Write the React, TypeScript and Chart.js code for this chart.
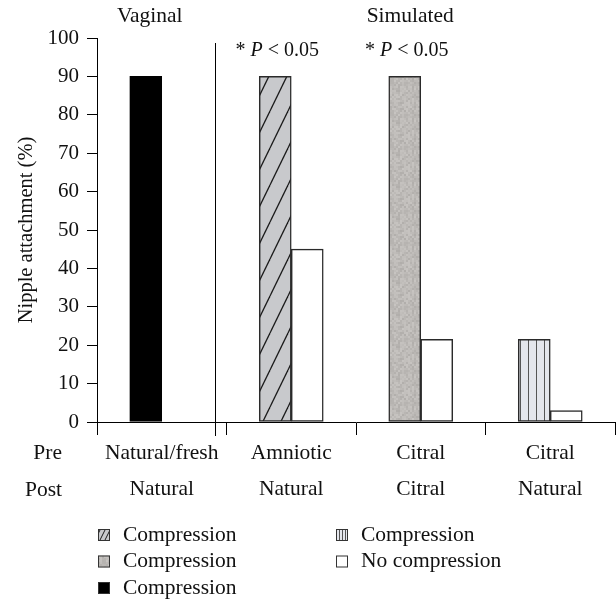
import React, { useEffect, useRef } from "react";
import { Chart, registerables } from "chart.js";

Chart.register(...registerables);

const FONT = "'Liberation Serif', 'Times New Roman', serif";
const FS = 21.5;

// ---- data ----
const preLabels = ["Natural/fresh", "Amniotic", "Citral", "Citral"];
const postLabels = ["Natural", "Natural", "Citral", "Natural"];
const rowLabels = ["Pre", "Post"];
const groupTitles = ["Vaginal", "Simulated"];
const significance = [null, "P < 0.05", "P < 0.05", null];

const amnioticCompression = [null, 90, null, null];
const citralCitralCompression = [null, null, 90, null];
const vaginalCompression = [90, null, null, null];
const citralNaturalCompression = [null, null, null, 21.5];
const noCompression = [0, 45, 21.5, 3];

const seriesLabels = ["Compression", "Compression", "Compression", "Compression", "No compression"];

function hash(x: number, y: number) {
  let h = (x * 374761393 + y * 668265263) | 0;
  h = (h ^ (h >>> 13)) * 1274126177;
  h = h ^ (h >>> 16);
  return ((h >>> 0) % 1000) / 1000;
}

function makePatterns(ctx: CanvasRenderingContext2D, small: boolean) {
  const hw = small ? 5 : 18;
  const hh = small ? 10 : 37;
  const hc = document.createElement("canvas");
  hc.width = hw;
  hc.height = hh;
  const hg = hc.getContext("2d")!;
  hg.fillStyle = "#c8c9cc";
  hg.fillRect(0, 0, hw, hh);
  hg.strokeStyle = "#1a1a1a";
  hg.lineWidth = small ? 1 : 1.3;
  for (const dx of [-hw, 0, hw]) {
    hg.beginPath();
    hg.moveTo(dx, hh);
    hg.lineTo(dx + hw, 0);
    hg.stroke();
  }
  const sc = document.createElement("canvas");
  sc.width = 32;
  sc.height = 32;
  const sg = sc.getContext("2d")!;
  for (let yy = 0; yy < 32; yy += 2) {
    for (let xx = 0; xx < 32; xx += 2) {
      const v = hash(xx, yy);
      const base = 186 + Math.round((v - 0.5) * 22);
      sg.fillStyle = `rgb(${base + 2},${base - 1},${base - 4})`;
      sg.fillRect(xx, yy, 2, 2);
    }
  }
  const vw = small ? 3 : 8;
  const vc = document.createElement("canvas");
  vc.width = vw;
  vc.height = 4;
  const vg = vc.getContext("2d")!;
  vg.fillStyle = "#e4e6ec";
  vg.fillRect(0, 0, vw, 4);
  vg.fillStyle = "#555";
  vg.fillRect(0, 0, 1, 4);
  return {
    hatch: ctx.createPattern(hc, "repeat")!,
    speckle: ctx.createPattern(sc, "repeat")!,
    stripes: ctx.createPattern(vc, "repeat")!,
  };
}

export default function App() {
  const ref = useRef<HTMLCanvasElement>(null);

  useEffect(() => {
    const canvas = ref.current!;
    const ctx = canvas.getContext("2d")!;
    const big = makePatterns(ctx, false);
    const small = makePatterns(ctx, true);
    const fills = [big.hatch, big.speckle, "#000000", big.stripes, "#ffffff"];
    const iconFills = [small.hatch, small.speckle, "#000000", small.stripes, "#ffffff"];

    const overlay = {
      id: "overlay",
      afterDraw(chart: any) {
        const c = chart.ctx as CanvasRenderingContext2D;
        const xs = chart.scales.x;
        const area = chart.chartArea;
        c.save();
        c.fillStyle = "#111";
        c.font = `${FS}px ${FONT}`;
        c.textBaseline = "middle";
        c.textAlign = "center";
        const p = preLabels.map((_, i) => xs.getPixelForValue(i));
        const divider = Math.round((p[0] + p[1]) / 2 - 12) + 0.5;
        c.fillText(groupTitles[0], p[0] - 12, 16);
        c.fillText(groupTitles[1], (divider + area.right) / 2 - 5, 16);
        // divider line
        c.strokeStyle = "#000";
        c.lineWidth = 1;
        c.beginPath();
        c.moveTo(divider, area.top + 5);
        c.lineTo(divider, area.bottom + 14);
        c.stroke();
        // significance labels
        const sf = 20;
        significance.forEach((s, i) => {
          if (!s) return;
          const cx = p[i] - 14;
          const rest = s.slice(1);
          c.font = `${sf}px ${FONT}`;
          const wStar = c.measureText("* ").width;
          const wRest = c.measureText(rest).width;
          c.font = `italic ${sf}px ${FONT}`;
          const wP = c.measureText("P").width;
          const x0 = cx - (wStar + wP + wRest) / 2;
          const yy = area.top + 13;
          c.textAlign = "left";
          c.font = `${sf}px ${FONT}`;
          c.fillText("* ", x0, yy);
          c.font = `italic ${sf}px ${FONT}`;
          c.fillText("P", x0 + wStar, yy);
          c.font = `${sf}px ${FONT}`;
          c.fillText(rest, x0 + wStar + wP, yy);
        });
        // Pre / Post
        c.textAlign = "right";
        c.font = `${FS}px ${FONT}`;
        c.fillText(rowLabels[0], area.left - 35, area.bottom + 31);
        c.fillText(rowLabels[1], area.left - 35, area.bottom + 68);
        // legend
        c.textAlign = "left";
        seriesLabels.forEach((lab, i) => {
          const col = Math.floor(i / 3);
          const row = i % 3;
          const ix = area.left + 1 + col * 238;
          const iy = area.bottom + 113 + row * 26.5;
          c.fillStyle = iconFills[i] as any;
          c.fillRect(ix, iy - 6, 12, 12);
          c.strokeStyle = "#333";
          c.lineWidth = 1;
          c.strokeRect(ix + 0.5, iy - 5.5, 11, 11);
          c.fillStyle = "#111";
          c.fillText(lab, ix + 25, iy);
        });
        c.restore();
      },
    };

    const datasets = [
      amnioticCompression,
      citralCitralCompression,
      vaginalCompression,
      citralNaturalCompression,
      noCompression,
    ].map((d, i) => ({
      label: seriesLabels[i],
      data: d,
      backgroundColor: fills[i] as any,
      borderColor: i === 2 ? "#000" : "#2a2a2a",
      borderWidth: 1.5,
      borderSkipped: false as any,
      barThickness: 32,
      skipNull: true,
    }));

    const chart = new Chart(ctx, {
      type: "bar",
      data: {
        labels: preLabels.map((pre, i) => [pre, postLabels[i]]),
        datasets,
      },
      options: {
        animation: false,
        responsive: false,
        events: [],
        layout: { padding: { top: 38, right: 1, left: 0, bottom: 0 } },
        plugins: { legend: { display: false }, tooltip: { enabled: false } },
        scales: {
          x: {
            afterFit: (s: any) => {
              s.height = 180;
            },
            border: { color: "#000", width: 1 },
            grid: {
              drawOnChartArea: false,
              tickLength: 13,
              color: (ctx2: any) => (ctx2.index === 4 ? "rgba(0,0,0,0)" : "#000"),
            },
            ticks: {
              color: "#111",
              padding: 0,
              maxRotation: 0,
              autoSkip: false,
              font: { family: FONT, size: FS, lineHeight: 1.7 },
            },
          },
          y: {
            min: 0,
            max: 100,
            afterFit: (s: any) => {
              s.width = 97;
            },
            border: { color: "#000", width: 1 },
            grid: { drawOnChartArea: false, tickLength: 10, color: "#000" },
            ticks: {
              stepSize: 10,
              color: "#111",
              padding: 8,
              font: { family: FONT, size: 21 },
            },
            title: {
              display: true,
              text: "Nipple attachment (%)",
              color: "#111",
              font: { family: FONT, size: 20.5 },
              padding: { top: 14, bottom: 0 },
            },
          },
        },
      },
      plugins: [overlay],
    });
    return () => chart.destroy();
  }, []);

  return (
    <div style={{ position: "fixed", left: 0, top: 0, width: 616, height: 602, background: "#fff" }}>
      <canvas ref={ref} width={616} height={602} style={{ width: 616, height: 602, display: "block" }} />
    </div>
  );
}
